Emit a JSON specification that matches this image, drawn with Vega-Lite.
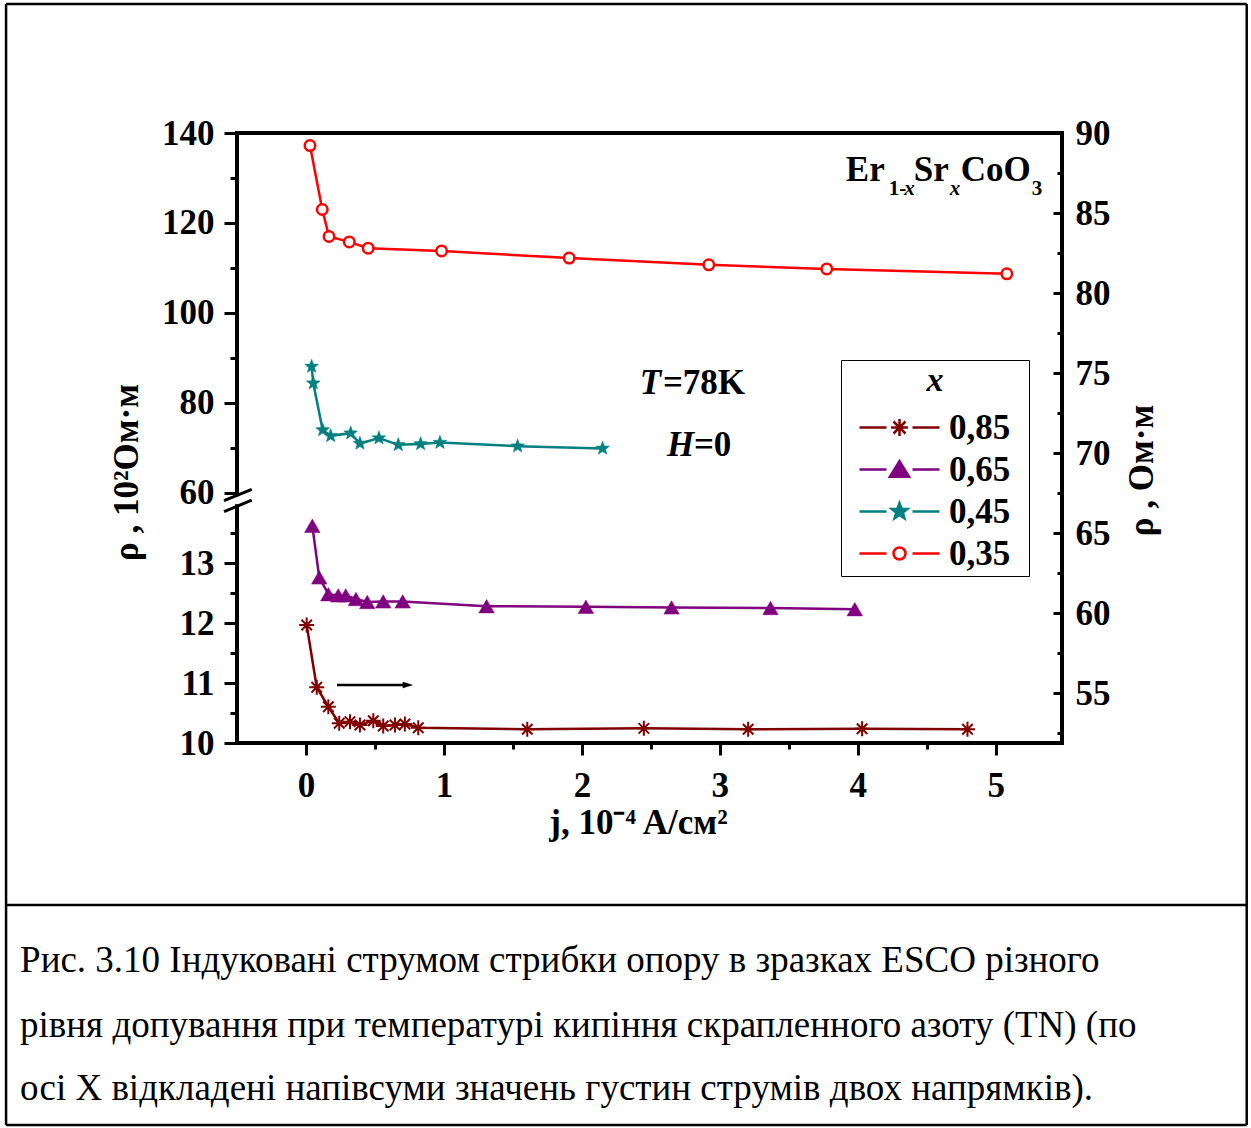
{
  "$schema": "https://vega.github.io/schema/vega-lite/v6.json",
  "width": 825,
  "height": 610,
  "autosize": "none",
  "padding": {"left": 237, "top": 133, "right": 189, "bottom": 385},
  "background": "white",
  "config": {
    "view": {"stroke": "black", "strokeWidth": 4},
    "font": "Liberation Serif",
    "axis": {
      "domain": false,
      "grid": false,
      "labelFont": "Liberation Serif",
      "labelFontSize": 35,
      "labelFontWeight": "bold",
      "labelColor": "black",
      "tickColor": "black",
      "tickWidth": 3,
      "titleFont": "Liberation Serif",
      "titleFontSize": 35,
      "titleFontWeight": "bold",
      "titleColor": "black",
      "labelOverlap": false,
      "labelFlush": false
    }
  },
  "datasets": {
    "upper": [
      {"series": "0,35", "j": 0.029, "rho": 137.2},
      {"series": "0,35", "j": 0.118, "rho": 123.0},
      {"series": "0,35", "j": 0.167, "rho": 117.0},
      {"series": "0,35", "j": 0.314, "rho": 115.8},
      {"series": "0,35", "j": 0.451, "rho": 114.4},
      {"series": "0,35", "j": 0.983, "rho": 113.8},
      {"series": "0,35", "j": 1.908, "rho": 112.2},
      {"series": "0,35", "j": 2.920, "rho": 110.7},
      {"series": "0,35", "j": 3.775, "rho": 109.8},
      {"series": "0,35", "j": 5.080, "rho": 108.7},
      {"series": "0,45", "j": 0.041, "rho": 88.1},
      {"series": "0,45", "j": 0.053, "rho": 84.4},
      {"series": "0,45", "j": 0.121, "rho": 74.0},
      {"series": "0,45", "j": 0.179, "rho": 72.7},
      {"series": "0,45", "j": 0.324, "rho": 73.3},
      {"series": "0,45", "j": 0.391, "rho": 71.0},
      {"series": "0,45", "j": 0.529, "rho": 72.2},
      {"series": "0,45", "j": 0.669, "rho": 70.7},
      {"series": "0,45", "j": 0.831, "rho": 70.9},
      {"series": "0,45", "j": 0.971, "rho": 71.2},
      {"series": "0,45", "j": 1.534, "rho": 70.4},
      {"series": "0,45", "j": 2.150, "rho": 69.9}
    ],
    "lower": [
      {"series": "0,65", "j": 0.046, "rho": 13.62},
      {"series": "0,65", "j": 0.096, "rho": 12.76},
      {"series": "0,65", "j": 0.162, "rho": 12.48},
      {"series": "0,65", "j": 0.234, "rho": 12.46},
      {"series": "0,65", "j": 0.288, "rho": 12.46},
      {"series": "0,65", "j": 0.362, "rho": 12.40},
      {"series": "0,65", "j": 0.444, "rho": 12.35},
      {"series": "0,65", "j": 0.560, "rho": 12.36},
      {"series": "0,65", "j": 0.701, "rho": 12.36},
      {"series": "0,65", "j": 1.309, "rho": 12.28},
      {"series": "0,65", "j": 2.029, "rho": 12.27},
      {"series": "0,65", "j": 2.650, "rho": 12.26},
      {"series": "0,65", "j": 3.367, "rho": 12.25},
      {"series": "0,65", "j": 3.978, "rho": 12.23}
    ],
    "right": [
      {"series": "0,85", "j": 0.005, "rho": 59.25},
      {"series": "0,85", "j": 0.078, "rho": 55.36},
      {"series": "0,85", "j": 0.162, "rho": 54.14},
      {"series": "0,85", "j": 0.241, "rho": 53.11},
      {"series": "0,85", "j": 0.319, "rho": 53.21},
      {"series": "0,85", "j": 0.391, "rho": 53.0},
      {"series": "0,85", "j": 0.488, "rho": 53.27},
      {"series": "0,85", "j": 0.560, "rho": 52.94},
      {"series": "0,85", "j": 0.645, "rho": 53.0},
      {"series": "0,85", "j": 0.717, "rho": 53.06},
      {"series": "0,85", "j": 0.814, "rho": 52.83},
      {"series": "0,85", "j": 1.604, "rho": 52.73},
      {"series": "0,85", "j": 2.449, "rho": 52.79},
      {"series": "0,85", "j": 3.205, "rho": 52.73},
      {"series": "0,85", "j": 4.031, "rho": 52.77},
      {"series": "0,85", "j": 4.795, "rho": 52.73}
    ]
  },
  "layer": [
    {
      "data": {"name": "upper"},
      "encoding": {
        "x": {"field": "j", "type": "quantitative", "scale": {"domain": [-0.5, 5.48], "nice": false, "zero": false},
              "axis": {"orient": "bottom", "values": [0, 1, 2, 3, 4, 5], "tickSize": 12, "labelPadding": 13, "title": "j, 10⁻⁴ A/см²", "titlePadding": 2, "titleX": 401}},
        "y": {"field": "rho", "type": "quantitative", "scale": {"domain": [4.444, 140], "nice": false, "zero": false},
              "axis": {"orient": "left", "values": [60, 80, 100, 120, 140], "tickSize": 13, "labelPadding": 10, "title": "ρ , 10²Ом·м", "titlePadding": 17, "titleY": 339}}
      },
      "layer": [
        {"transform": [{"filter": {"field": "series", "equal": "0,35"}}], "mark": {"type": "line", "color": "#ff0000", "strokeWidth": 2.5}},
        {"transform": [{"filter": {"field": "series", "equal": "0,45"}}], "mark": {"type": "line", "color": "#008080", "strokeWidth": 2.5}},
        {"transform": [{"filter": {"field": "series", "equal": "0,35"}}], "mark": {"type": "point", "shape": "circle", "size": 110, "filled": true, "fill": "white", "stroke": "#ff0000", "strokeWidth": 2.5, "opacity": 1}},
        {"transform": [{"filter": {"field": "series", "equal": "0,45"}}], "mark": {"type": "point", "shape": "M0,-1L0.247,-0.34L0.951,-0.309L0.399,0.13L0.588,0.809L0,0.42L-0.588,0.809L-0.399,0.13L-0.951,-0.309L-0.247,-0.34Z", "size": 210, "filled": true, "fill": "#008080", "stroke": "#008080", "strokeWidth": 0.5, "opacity": 1}}
      ]
    },
    {
      "data": {"name": "upper"},
      "mark": {"type": "point", "opacity": 0},
      "encoding": {
        "x": {"field": "j", "type": "quantitative", "scale": {"domain": [-0.5, 5.48], "nice": false, "zero": false},
              "axis": {"orient": "bottom", "values": [0.5, 1.5, 2.5, 3.5, 4.5], "tickSize": 6, "labels": false, "title": null}},
        "y": {"field": "rho", "type": "quantitative", "scale": {"domain": [4.444, 140], "nice": false, "zero": false},
              "axis": {"orient": "left", "values": [70, 90, 110, 130], "tickSize": 7, "labels": false, "title": null}}
      }
    },
    {
      "data": {"name": "lower"},
      "encoding": {
        "x": {"field": "j", "type": "quantitative", "scale": {"domain": [-0.5, 5.48], "nice": false, "zero": false}, "axis": null},
        "y": {"field": "rho", "type": "quantitative", "scale": {"domain": [10, 20.1667], "nice": false, "zero": false},
              "axis": {"orient": "left", "values": [10, 11, 12, 13], "tickSize": 13, "labelPadding": 10, "title": null}}
      },
      "layer": [
        {"mark": {"type": "line", "color": "#800080", "strokeWidth": 2.5}},
        {"mark": {"type": "point", "shape": "triangle-up", "size": 240, "filled": true, "fill": "#800080", "stroke": "#800080", "strokeWidth": 0.5, "opacity": 1}}
      ]
    },
    {
      "data": {"name": "lower"},
      "mark": {"type": "point", "opacity": 0},
      "encoding": {
        "x": {"field": "j", "type": "quantitative", "scale": {"domain": [-0.5, 5.48], "nice": false, "zero": false}, "axis": null},
        "y": {"field": "rho", "type": "quantitative", "scale": {"domain": [10, 20.1667], "nice": false, "zero": false},
              "axis": {"orient": "left", "values": [10.5, 11.5, 12.5, 13.5], "tickSize": 7, "labels": false, "title": null}}
      }
    },
    {
      "data": {"name": "right"},
      "encoding": {
        "x": {"field": "j", "type": "quantitative", "scale": {"domain": [-0.5, 5.48], "nice": false, "zero": false}, "axis": null},
        "y": {"field": "rho", "type": "quantitative", "scale": {"domain": [51.875, 90], "nice": false, "zero": false},
              "axis": {"orient": "right", "values": [55, 60, 65, 70, 75, 80, 85, 90], "tickSize": -9, "labelPadding": 22, "title": "ρ , Ом·м", "titleAngle": 270, "titleBaseline": "top", "titlePadding": 14, "titleY": 337}}
      },
      "layer": [
        {"mark": {"type": "line", "color": "#800000", "strokeWidth": 2.5}},
        {"mark": {"type": "point", "shape": "M0,-1L0,1M-1,0L1,0M-0.7,-0.7L0.7,0.7M-0.7,0.7L0.7,-0.7", "size": 225, "filled": false, "stroke": "#800000", "strokeWidth": 2, "opacity": 1}},
        {
          "data": {"values": [
            {"j": -2.174, "rho": 98.06, "j2": 6.819, "rho2": 98.06},
            {"j": -2.174, "rho": 28.0, "j2": 6.819, "rho2": 28.0},
            {"j": -2.174, "rho": 28.0, "j2": -2.174, "rho2": 98.06},
            {"j": 6.819, "rho": 28.0, "j2": 6.819, "rho2": 98.06},
            {"j": -2.174, "rho": 41.75, "j2": 6.819, "rho2": 41.75}
          ]},
          "mark": {"type": "rule", "color": "black", "strokeWidth": 2.5, "clip": false},
          "encoding": {"x2": {"field": "j2"}, "y2": {"field": "rho2"}}
        },
        {
          "data": {"values": [{"j": -0.5, "rho": 67.3, "j2": -0.5, "rho2": 66.8}]},
          "mark": {"type": "rule", "color": "white", "strokeWidth": 7, "clip": false},
          "encoding": {"x2": {"field": "j2"}, "y2": {"field": "rho2"}}
        },
        {
          "data": {"values": [
            {"j": -0.594, "rho": 67.02, "j2": -0.393, "rho2": 67.73},
            {"j": -0.594, "rho": 66.33, "j2": -0.393, "rho2": 67.06}
          ]},
          "mark": {"type": "rule", "color": "black", "strokeWidth": 3, "clip": false},
          "encoding": {"x2": {"field": "j2"}, "y2": {"field": "rho2"}}
        },
        {
          "data": {"values": [{"j": 0.225, "rho": 55.5, "j2": 0.73, "rho2": 55.5}]},
          "mark": {"type": "rule", "color": "black", "strokeWidth": 2.5},
          "encoding": {"x2": {"field": "j2"}, "y2": {"field": "rho2"}}
        },
        {
          "data": {"values": [{"j": 0.739, "rho": 55.5}]},
          "mark": {"type": "point", "shape": "M-1,-0.6L1,0L-1,0.6Z", "size": 110, "filled": true, "color": "black", "opacity": 1}
        },
        {
          "data": {"values": [{"j": 2.42, "rho": 73.69, "t": "T"}, {"j": 2.616, "rho": 69.81, "t": "H"}]},
          "mark": {"type": "text", "align": "left", "baseline": "alphabetic", "font": "Liberation Serif", "fontSize": 35, "fontWeight": "bold", "fontStyle": "italic", "color": "black"},
          "encoding": {"text": {"field": "t"}}
        },
        {
          "data": {"values": [
            {"j": 2.587, "rho": 73.69, "t": "=78K"},
            {"j": 2.812, "rho": 69.81, "t": "=0"},
            {"j": 3.913, "rho": 87.0, "t": "Er"},
            {"j": 4.406, "rho": 87.0, "t": "Sr"},
            {"j": 4.746, "rho": 87.0, "t": "CoO"}
          ]},
          "mark": {"type": "text", "align": "left", "baseline": "alphabetic", "font": "Liberation Serif", "fontSize": 35, "fontWeight": "bold", "color": "black"},
          "encoding": {"text": {"field": "t"}}
        },
        {
          "data": {"values": [{"j": 4.225, "rho": 86.125, "t": "1-"}, {"j": 5.261, "rho": 86.125, "t": "3"}]},
          "mark": {"type": "text", "align": "left", "baseline": "alphabetic", "font": "Liberation Serif", "fontSize": 21, "fontWeight": "bold", "color": "black"},
          "encoding": {"text": {"field": "t"}}
        },
        {
          "data": {"values": [{"j": 4.337, "rho": 86.125, "t": "x"}, {"j": 4.667, "rho": 86.125, "t": "x"}]},
          "mark": {"type": "text", "align": "left", "baseline": "alphabetic", "font": "Liberation Serif", "fontSize": 21, "fontWeight": "bold", "fontStyle": "italic", "color": "black"},
          "encoding": {"text": {"field": "t"}}
        },
        {
          "data": {"values": [
            {"j": -2.0725, "rho": 37.56, "t": "Рис. 3.10 Індуковані струмом стрибки опору в зразках ESCO різного"},
            {"j": -2.0725, "rho": 33.5, "t": "рівня допування при температурі кипіння скрапленного азоту (TN) (по"},
            {"j": -2.0725, "rho": 29.56, "t": "осі X відкладені напівсуми значень густин струмів двох напрямків)."}
          ]},
          "mark": {"type": "text", "align": "left", "baseline": "alphabetic", "font": "Liberation Serif", "fontSize": 37, "fontWeight": "normal", "color": "black"},
          "encoding": {"text": {"field": "t"}}
        }
      ]
    },
    {
      "data": {"name": "right"},
      "mark": {"type": "point", "opacity": 0},
      "encoding": {
        "x": {"field": "j", "type": "quantitative", "scale": {"domain": [-0.5, 5.48], "nice": false, "zero": false}, "axis": null},
        "y": {"field": "rho", "type": "quantitative", "scale": {"domain": [51.875, 90], "nice": false, "zero": false},
              "axis": {"orient": "right", "values": [52.5, 57.5, 62.5, 67.5, 72.5, 77.5, 82.5, 87.5], "tickSize": -5, "labels": false, "title": null}}
      }
    },
    {
      "data": {"values": [{"series": "0,85"}, {"series": "0,65"}, {"series": "0,45"}, {"series": "0,35"}]},
      "mark": {"type": "point", "opacity": 0, "filled": true, "strokeWidth": 2.5},
      "encoding": {
        "shape": {"field": "series", "type": "nominal",
          "scale": {"domain": ["0,85", "0,65", "0,45", "0,35"], "range": [
            "M-2,0L-0.65,0M0.65,0L2,0M0,-0.42L0,0.42M-0.42,0L0.42,0M-0.3,-0.3L0.3,0.3M-0.3,0.3L0.3,-0.3",
            "M-2,0L-0.65,0M0.65,0L2,0M0,-0.42L0.48,0.36L-0.48,0.36Z",
            "M-2,0L-0.65,0M0.65,0L2,0M0,-0.42L0.104,-0.143L0.399,-0.13L0.168,0.055L0.247,0.34L0,0.176L-0.247,0.34L-0.168,0.055L-0.399,-0.13L-0.104,-0.143Z",
            "M-2,0L-0.65,0M0.65,0L2,0M0.3,0A0.3,0.3 0 1,1 -0.3,0A0.3,0.3 0 1,1 0.3,0Z"
          ]},
          "legend": {"title": "x", "orient": "none", "legendX": 604, "legendY": 227, "padding": 4, "symbolSize": 1600, "symbolOffset": 33, "labelOffset": 28, "rowPadding": 2, "titlePadding": 8, "titleAnchor": "middle", "titleFontStyle": "italic", "titleFontWeight": "bold", "titleFontSize": 34, "titleFont": "Liberation Serif", "titleColor": "black", "labelFont": "Liberation Serif", "labelFontSize": 35, "labelFontWeight": "bold", "labelColor": "black", "strokeColor": "black", "fillColor": "white", "symbolOpacity": 1, "symbolStrokeWidth": 2.5, "labelExpr": "datum.label + '\u2009\u2009\u200b'"}
        },
        "fill": {"field": "series", "type": "nominal",
          "scale": {"domain": ["0,85", "0,65", "0,45", "0,35"], "range": ["#800000", "#800080", "#008080", "#ffffff"]},
          "legend": {"title": "x", "orient": "none", "legendX": 604, "legendY": 227, "padding": 4, "symbolSize": 1600, "symbolOffset": 33, "labelOffset": 28, "rowPadding": 2, "titlePadding": 8, "titleAnchor": "middle", "titleFontStyle": "italic", "titleFontWeight": "bold", "titleFontSize": 34, "titleFont": "Liberation Serif", "titleColor": "black", "labelFont": "Liberation Serif", "labelFontSize": 35, "labelFontWeight": "bold", "labelColor": "black", "strokeColor": "black", "fillColor": "white", "symbolOpacity": 1, "symbolStrokeWidth": 2.5, "labelExpr": "datum.label + '\u2009\u2009\u200b'"}
        },
        "stroke": {"field": "series", "type": "nominal",
          "scale": {"domain": ["0,85", "0,65", "0,45", "0,35"], "range": ["#800000", "#800080", "#008080", "#ff0000"]},
          "legend": {"title": "x", "orient": "none", "legendX": 604, "legendY": 227, "padding": 4, "symbolSize": 1600, "symbolOffset": 33, "labelOffset": 28, "rowPadding": 2, "titlePadding": 8, "titleAnchor": "middle", "titleFontStyle": "italic", "titleFontWeight": "bold", "titleFontSize": 34, "titleFont": "Liberation Serif", "titleColor": "black", "labelFont": "Liberation Serif", "labelFontSize": 35, "labelFontWeight": "bold", "labelColor": "black", "strokeColor": "black", "fillColor": "white", "symbolOpacity": 1, "symbolStrokeWidth": 2.5, "labelExpr": "datum.label + '\u2009\u2009\u200b'"}
        }
      }
    }
  ],
  "resolve": {"scale": {"x": "independent", "y": "independent"}}
}
